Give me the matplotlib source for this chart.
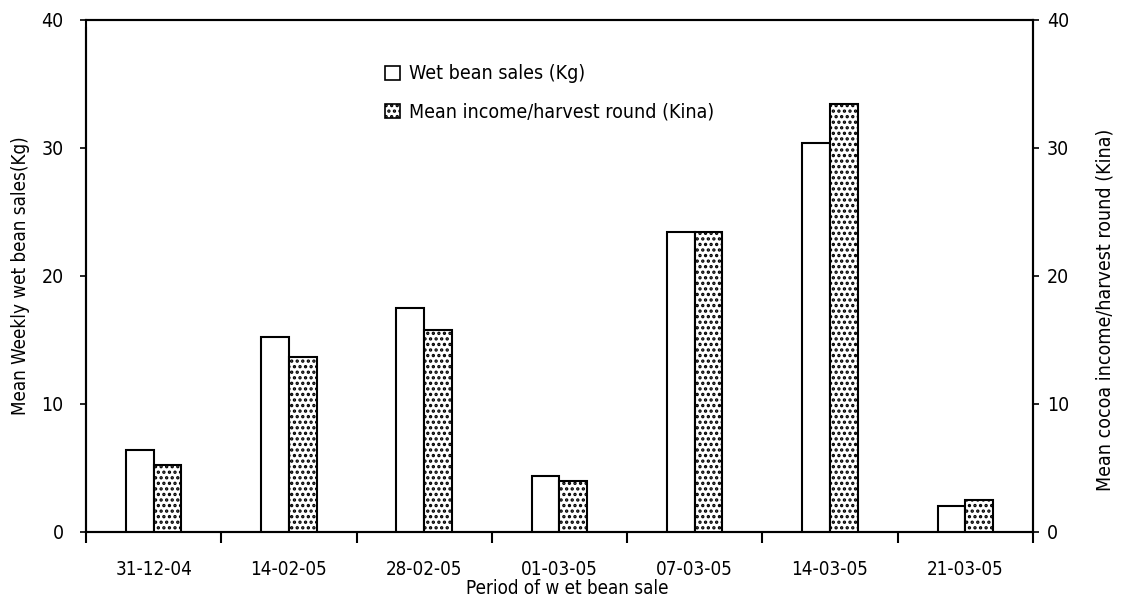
import matplotlib
matplotlib.use("Agg")
import matplotlib.pyplot as plt
import numpy as np
from matplotlib.ticker import FixedLocator, NullFormatter

plt.rcParams['font.family'] = ['DejaVu Sans']
plt.rcParams['font.stretch'] = 'condensed'
plt.rcParams['hatch.linewidth'] = 1.6

categories = ["31-12-04", "14-02-05", "28-02-05", "01-03-05", "07-03-05", "14-03-05", "21-03-05"]
wet_bean_sales = [6.4, 15.2, 17.5, 4.4, 23.4, 30.4, 2.0]
mean_income = [5.2, 13.7, 15.8, 4.0, 23.4, 33.4, 2.5]
y_ticks = [0, 10, 20, 30, 40]

fig = plt.figure(figsize=(11.24, 5.97), dpi=100)
ax = fig.add_axes([0.0765, 0.109, 0.8425, 0.8575])
ax2 = ax.twinx()

x = np.arange(len(categories))
w = 0.205
ax.bar(x - w / 2, wet_bean_sales, width=w, color='white', edgecolor='black', linewidth=1.5,
       label='Wet bean sales (Kg)', zorder=3)
ax2.bar(x + w / 2, mean_income, width=w, color='white', edgecolor='black', linewidth=1.5,
        hatch='...', label='Mean income/harvest round (Kina)', zorder=3)

for a in (ax, ax2):
    a.set_ylim(0, 40)
    a.set_xlim(-0.5, len(categories) - 0.5)
    a.set_yticks(y_ticks)

ax.set_xticks(x)
ax.set_xticklabels(categories, fontsize=13.5)
ax.xaxis.set_minor_locator(FixedLocator(np.arange(len(categories) + 1) - 0.5))
ax.xaxis.set_minor_formatter(NullFormatter())
ax.tick_params(axis='x', which='major', length=0, pad=20)
ax.tick_params(axis='x', which='minor', length=8, width=1.5, direction='out')
ax.tick_params(axis='y', which='major', length=4, width=1.2, direction='out', labelsize=14, pad=12)
ax2.tick_params(axis='y', which='major', length=4, width=1.2, direction='out', labelsize=14, pad=6)

for a in (ax, ax2):
    for s in a.spines.values():
        s.set_linewidth(1.5)
ax.spines['left'].set_bounds(0, 39.4)

ax.set_ylabel('Mean Weekly wet bean sales(Kg)', fontsize=13.5, labelpad=8)
ax2.set_ylabel('Mean cocoa income/harvest round (Kina)', fontsize=14, labelpad=19)
ax2.yaxis.label.set_y(0.434)
ax.set_xlabel('Period of w et bean sale', fontsize=13.5)
ax.xaxis.set_label_coords(0.508, -0.092)

h1, l1 = ax.get_legend_handles_labels()
h2, l2 = ax2.get_legend_handles_labels()
leg = fig.legend(h1 + h2, l1 + l2, loc='upper left', bbox_to_anchor=(0.336, 0.905),
                 frameon=False, fontsize=14, handlelength=0.75, handleheight=0.75,
                 handletextpad=0.45, labelspacing=1.0, borderaxespad=0)
for p in leg.get_patches():
    p.set_linewidth(1.2)

fig.savefig('out.png', dpi=100)
